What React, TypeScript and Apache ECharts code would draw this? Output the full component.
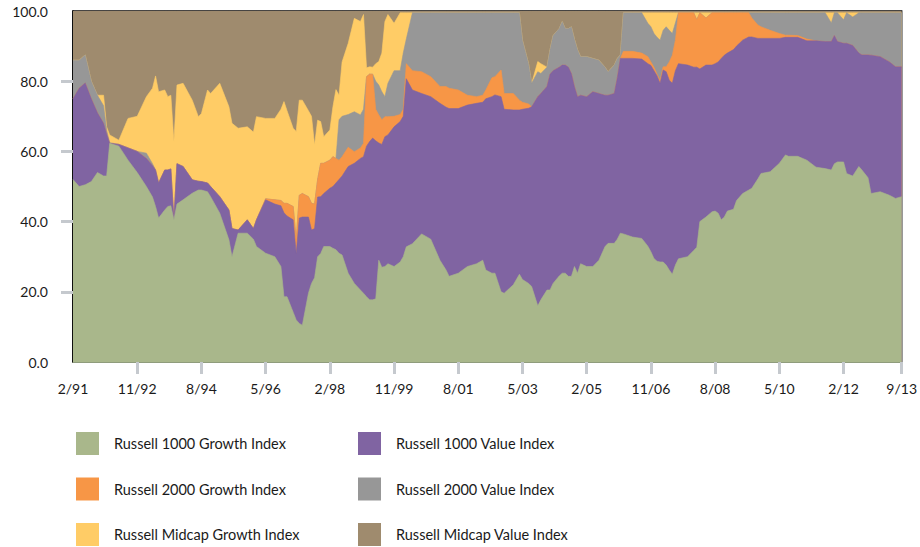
import React, { useEffect, useRef } from "react";
import * as echarts from "echarts";

// month index: 0 = Feb 1991 ... 271 = Sep 2013
const months = [0,2,4,6,8,10,11,12,15,18,21,24,26,27,28,30,31,32,33,34,36,39,41,42,44,45,48,51,52,54,57,59,60,63,66,68,69,70,72,73,74,75,77,78,79,80,81,82,84,85,86,87,88,90,92,94,95,96,97,98,99,100,101,102,103,105,107,108,109,111,114,117,120,122,123,126,129,132,134,135,137,138,140,141,144,146,147,149,150,152,153,155,156,157,159,160,161,162,163,164,165,166,168,170,172,174,175,177,178,179,180,183,186,188,189,190,191,192,193,194,195,196,197,198,201,203,204,205,207,209,210,211,212,213,214,216,217,219,221,222,224,225,228,231,233,234,237,240,243,246,248,249,250,252,253,255,257,258,260,261,264,267,269,271];

const growth1000 = [52,50,50.5,51.4,54,53,53,62.3,61.5,57.5,
54,50,47,44.3,41,43.3,44.3,44.5,40.5,45,
46.2,48.1,49,49,48.5,47.1,42.4,34.8,30,36.7,
36.7,35,32.9,31,30,27.2,18.6,18.6,14.2,12,
11,10.5,19.6,22.4,24,30,30.9,32.9,32.9,32.4,
32,31,30.5,25.3,22.4,20.5,19.6,18.6,17.7,17.7,
18,29,27,27.2,28,27.2,28.5,30,32.8,33.7,
36.5,35,29,26.2,24.4,25.3,27.2,28,29,26.2,
25.3,25.3,20,19.6,22,25,23.5,22.4,21.5,16,
17.7,20.5,20.5,22.4,24.5,25.3,25.3,24.4,24.4,27.2,
25.3,28,27.2,27.2,29,32.9,33.8,33.8,35,36.7,
36.5,35.6,35.2,33,31.4,29.5,28.7,28.5,28.5,27.6,
26.2,25,27.6,29.4,30,31.8,32.7,40,41.3,42.8,
43,42.4,40.5,41.3,43,43.5,46,48,49,49.5,
52.2,53.7,54.2,56.6,59,58.6,58.6,57.5,55.5,55.1,
54.7,56.5,57,57,53.7,53,55.7,54.7,52.5,48,
48.5,47.5,46.6,47.1];

const value1000 = [23,28,29,23.6,17,15,12,0,0.5,3.5,
6,8,9,10.4,10,11.4,10.4,10.5,0,11.5,
9.5,3.8,2.5,2.4,2.5,2.9,4.7,8.5,8,0.9,
3.8,3,7.6,15.2,15,17.3,23.9,23,26.3,18.9,
30,30.8,21.7,15.2,14,17,16.2,15.1,16.6,17.6,
19,21,22.5,30.4,34.2,37.5,38.9,42.9,45.1,46.1,
45,33.4,35,37,36.7,39.8,40,40,47.9,43.8,
40,40.6,44.7,46.4,47.8,46.9,46,45.7,45,48.8,
50.3,50.8,55.6,52.4,49.8,46.8,48.5,49.9,51.2,59.6,
58.8,58,61.5,60.6,59.5,59.3,59.3,59.6,57.8,51.3,
50.3,48,48.4,49.8,47.5,43.1,42.2,42.7,46,49.8,
50,50.9,51.1,52,53.1,53.5,52.8,50.9,54.7,55.1,
54.1,54.4,55.4,55.6,54.6,52.2,51.3,43.5,43.3,41.8,
42,43.1,46,46.1,45,45.5,44,43.7,43.6,43.1,
40,38.5,38,35.6,33.5,33.9,33.9,34,36,36.2,
36.6,36.5,34.3,33.8,37.1,37.2,32.3,32.8,35,39.4,
38.5,38,37.5,37];

const growth2000 = [0,0,0,0,0,0,0,0,0,0,
0,0,0,0,0,0,0,0,0,0,
0,0,0,0,0,0,0,0,0,0,
0,0,0,0.3,1.2,1.5,2.7,3.6,3.8,3.9,
6.5,6.7,5.8,7.6,7,5,9.5,8.6,8,8.5,
7,5.5,5.5,5.5,3.3,3,3.8,19.8,19.2,18.2,
9,8,7,5.7,5.2,3,2,2,4.3,5.5,
6.2,5.7,4.8,5.9,5.8,5.3,2.8,1.9,2,2.5,
5.4,5.2,7.6,4.5,4.7,2.8,2,1.2,0,0,
0,0,0,0,0,0,0,0,0,0,
0,0,0,0,0,0,0,0,0,0,
2,2,1.7,2,1,1,0.5,0.9,0.9,1.4,
5.2,8,8.7,14.5,14.9,15.5,13.5,16,13.4,14.9,
14.5,14,13,12.1,11.5,10.5,9.5,7.8,6.9,5.4,
3.8,3.3,2.3,1.4,0.6,0.6,0.5,0.5,0,0,
0,0,0,0,0,0,0,0,0,0,
0,0,0,0];

const value2000 = [11,8,8,5,5,5,1,0.2,0,0,
0,1.5,0.5,0,0,0,0,0,0,0,
0,0,0,0,0,0,0,0,0,0,
0,0,0,0,0,0,0,0,0,0,
0,0,0,0,0,0,0,0,0,0,
0,11.5,11.5,9.3,11.4,9.4,9.7,0,0,0,
8,8.5,8,5.7,9.5,13,12.5,16,7,16.5,
16.8,18.2,21,21,21.5,22,23.5,23.9,23.5,22,
18.5,18.2,16.3,23,23,24.9,17.7,11.5,6.7,7.1,
5.7,5.5,7,10,11,12.4,10.4,11,13.3,13.5,
13.4,11,11.4,9.5,9.5,8,6.7,8.1,5.5,1,
11,11,11.5,9.5,10,9.6,10.5,11.4,10.4,11.4,
9,6.2,4.9,0,0,0,0,0,0,0,
0,0,0,0,0,0,0,0,0,1.5,
3.5,4,5,5.9,6.4,6.4,6.5,7.5,8,8.2,
5.3,6.5,8.2,6.7,8.7,8.1,11.5,12,12,12.1,
12.5,14,15.4,15.4];

const midcapGrowth = [0,0,0,0,0,3,1,2.2,1.2,8.4,
10,16.1,21.5,26.8,26,22.8,20.9,21,22.3,22.4,
23.7,22.7,18.4,19.4,26.5,26.5,32.3,29.4,30,29,
26.5,27.5,29.4,22.9,23.2,26,29,26.4,22.3,30.9,
27.1,26.6,24.5,24.8,16.8,16.9,11.9,7.6,8.6,14.2,
19.6,7,15.5,20.3,26.6,26.6,27,2.5,2.1,2,
5,6.7,11,21.4,19.6,13.5,16.5,11.5,7.5,0,
0,0,0,0,0,0,0,0,0,0,
0,0,0,0,0,0,0,0,0,2.9,
2.8,0,0,0,0,0,0,0,0,0,
0,0,0,0,0,0,0,0,0,0,
0,0,0,3,4,5.9,7,7.8,5,4,
5,5.9,2.9,0,0,0,2,0,1.5,0,
0,0,0,0,0,0,0,0,0,0,
0,0,0,0,0,0,0,0,0,0,
2.9,0,0,2,0,1.2,0,0,0,0,
0,0,0,0];

const midcapValue = [14,14,12.5,20,24,24,33,35.3,36.8,30.6,
30,24.4,22,18.5,23,22.5,24.4,24,37.2,21.1,
20.6,25.4,30.1,29.2,22.5,23.5,20.6,27.3,32,33.4,
33,34.5,30.1,30.6,30.6,28,25.8,28.4,33.4,34.3,
25.4,25.4,28.4,30,38.2,31.1,31.5,35.8,33.9,27.3,
22.4,24,14.5,9.2,2.1,3,1,16.2,15.9,16,
15,14.4,12,3,1,3.5,0.5,0.5,0.5,0.5,
0.5,0.5,0.5,0.5,0.5,0.5,0.5,0.5,0.5,0.5,
0.5,0.5,0.5,0.5,0.5,0.5,8.3,15,20.6,14.4,
15,16,11,7,5,3,5,5,4.5,8,
11,13,13,13.5,14,16,17.3,15.4,13.5,12.5,
0.5,0.5,0.5,0.5,0.5,0.5,0.5,0.5,0.5,0.5,
0.5,0.5,0.5,0.5,0.5,0.5,0.5,0.5,0.5,0.5,
0.5,0.5,0.5,0.5,0.5,0.5,0.5,0.5,0.5,0.5,
0.5,0.5,0.5,0.5,0.5,0.5,0.5,0.5,0.5,0.5,
0.5,0.5,0.5,0.5,0.5,0.5,0.5,0.5,0.5,0.5,
0.5,0.5,0.5,0.5];

const tickMonths = [0,21,42,63,84,105,126,147,168,189,210,231,252,271];
const tickLabels = ["2/91","11/92","8/94","5/96","2/98","11/99","8/01","5/03","2/05","11/06","8/08","5/10","2/12","9/13"];
const yTickValues = [0, 20, 40, 60, 80, 100];
const yTickMarks = [20, 40, 60, 80];

const seriesNames = [
  "Russell 1000 Growth Index",
  "Russell 1000 Value Index",
  "Russell 2000 Growth Index",
  "Russell 2000 Value Index",
  "Russell Midcap Growth Index",
  "Russell Midcap Value Index",
];
const seriesColors = ["#a9b78b", "#8064a2", "#f79646", "#979797", "#ffcc66", "#9f8b6e"];
const seriesValues = [growth1000, value1000, growth2000, value2000, midcapGrowth, midcapValue];

const FONT = "Lato";

export default function App() {
  const ref = useRef<HTMLDivElement>(null);
  useEffect(() => {
    if (!ref.current) return;
    const chart = echarts.init(ref.current, null, { renderer: "svg" });
    // running (stacked) totals, bottom layer first
    const tops = seriesValues.map((_, k) =>
      months.map((m, i) => {
        let s = 0;
        for (let j = 0; j <= k; j++) s += seriesValues[j][i];
        return [m, Math.min(100, Math.round(s * 100) / 100)];
      })
    );
    // draw the top layer first so lower layers paint over it
    const order = [5, 4, 3, 2, 1, 0];
    const series = order.map((k, idx) => ({
      name: seriesNames[k],
      type: "line",
      data: tops[k],
      symbol: "none",
      showSymbol: false,
      lineStyle: { width: 0.6, color: seriesColors[k] },
      itemStyle: { color: seriesColors[k] },
      areaStyle: { color: seriesColors[k], opacity: 1, origin: "start" },
      emphasis: { disabled: true },
      silent: true,
      z: 2 + idx,
    }));
    const legendBase = {
      orient: "vertical",
      itemWidth: 23,
      itemHeight: 23,
      itemGap: 22.5,
      padding: 0,
      icon: "rect",
      selectedMode: false,
      textStyle: { fontFamily: FONT, fontSize: 14.5, color: "#1a1a1a", padding: [0, 0, 0, 10] },
    };
    chart.setOption({
      animation: false,
      backgroundColor: "#ffffff",
      grid: {
        left: 73,
        right: 12,
        top: 11,
        bottom: 185,
        show: true,
        borderColor: "#000000",
        borderWidth: 1.5,
        backgroundColor: "transparent",
        containLabel: false,
      },
      legend: [
        { ...legendBase, left: 76, top: 432, data: [seriesNames[0], seriesNames[2], seriesNames[4]] },
        { ...legendBase, left: 358, top: 432, data: [seriesNames[1], seriesNames[3], seriesNames[5]] },
      ],
      xAxis: {
        type: "value",
        min: 0,
        max: 271,
        interval: 21,
        axisLine: { show: true, lineStyle: { color: "#8f9c7c", width: 1 } },
        axisTick: {
          show: true,
          length: 12,
          customValues: tickMonths.slice(1),
          lineStyle: { color: "#c5c9ce", width: 3 },
        },
        splitLine: { show: false },
        axisLabel: {
          customValues: tickMonths,
          margin: 19,
          fontFamily: FONT,
          fontSize: 14,
          color: "#1a1a1a",
          formatter: (v: number) => {
            const i = tickMonths.indexOf(Math.round(v));
            return i >= 0 ? tickLabels[i] : "";
          },
        },
      },
      yAxis: {
        type: "value",
        min: 0,
        max: 100,
        interval: 20,
        axisLine: { show: true, lineStyle: { color: "#000000", width: 1.5 } },
        axisTick: {
          show: true,
          length: 12,
          customValues: yTickMarks,
          lineStyle: { color: "#c5c9ce", width: 3 },
        },
        splitLine: { show: false },
        axisLabel: {
          customValues: yTickValues,
          margin: 25,
          fontFamily: FONT,
          fontSize: 14,
          color: "#1a1a1a",
          formatter: (v: number) => v.toFixed(1),
        },
      },
      series,
    });
    return () => chart.dispose();
  }, []);
  return (
    <div
      ref={ref}
      style={{ position: "fixed", left: 0, top: 0, width: 920, height: 547, background: "#fff" }}
    />
  );
}
